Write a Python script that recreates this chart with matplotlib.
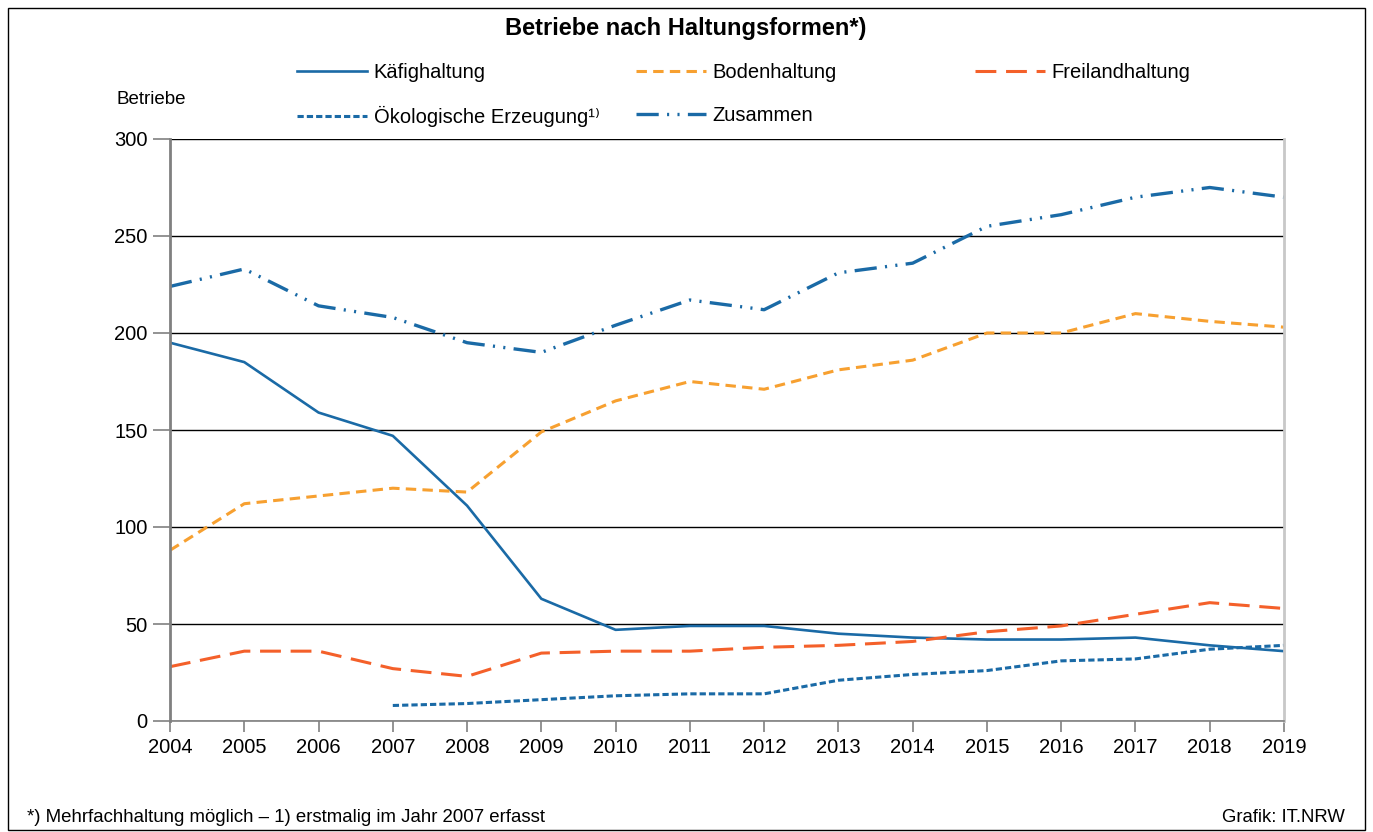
import matplotlib.pyplot as plt
from matplotlib.patches import Rectangle

plt.rcParams['font.family'] = ['Liberation Sans', 'DejaVu Sans']
plt.rcParams['lines.scale_dashes'] = False

years = list(range(2004, 2020))
kaefig = [195, 185, 159, 147, 111, 63, 47, 49, 49, 45, 43, 42, 42, 43, 39, 36]
boden = [88, 112, 116, 120, 118, 149, 165, 175, 171, 181, 186, 200, 200, 210, 206, 203]
freiland = [28, 36, 36, 27, 23, 35, 36, 36, 38, 39, 41, 46, 49, 55, 61, 58]
oeko_years = list(range(2007, 2020))
oeko = [8, 9, 11, 13, 14, 14, 21, 24, 26, 31, 32, 37, 39]
zusammen = [224, 233, 214, 208, 195, 190, 204, 217, 212, 231, 236, 255, 261, 270, 275, 270]

blue = '#1a6aa6'
c_boden = '#f7a030'
c_frei = '#f4602a'

fig = plt.figure(figsize=(13.73, 8.32), dpi=100)
ax = fig.add_axes([170 / 1373, 1 - 721 / 832, 1114 / 1373, 582 / 832])

l1, = ax.plot(years, kaefig, color=blue, lw=1.9, label='Käfighaltung')
l2, = ax.plot(years, boden, color=c_boden, lw=2.2, ls=(0, (7.5, 4.5)), label='Bodenhaltung')
l3, = ax.plot(years, freiland, color=c_frei, lw=2.2, ls=(0, (15, 7)), label='Freilandhaltung')
l4, = ax.plot(oeko_years, oeko, color=blue, lw=2.2, ls=(0, (4.5, 2.2)), label='Ökologische Erzeugung¹⁾')
l5, = ax.plot(years, zusammen, color=blue, lw=2.4,
              ls=(0, (16, 6, 1.5, 6, 1.5, 6)), label='Zusammen')

ax.set_xlim(2004, 2019)
ax.set_ylim(0, 300)
ax.set_xticks(years)
ax.set_yticks(range(0, 301, 50))
ax.grid(axis='y', color='black', lw=1)
ax.set_axisbelow(True)
ax.tick_params(axis='both', labelsize=14.5, color='#808080', width=1.2, labelcolor='black')
ax.tick_params(axis='y', length=12, pad=4)
ax.tick_params(axis='x', length=8, pad=4)
ax.spines['top'].set_visible(False)
ax.spines['left'].set_color('#808080')
ax.spines['left'].set_linewidth(2)
ax.spines['bottom'].set_color('#808080')
ax.spines['bottom'].set_linewidth(1.2)
ax.spines['right'].set_color('#c8c8c8')
ax.spines['right'].set_linewidth(2)

fig.text(686 / 1373, 1 - 29 / 832, 'Betriebe nach Haltungsformen*)', ha='center', va='center',
         fontsize=17, fontweight='bold')
fig.text(117 / 1373, 1 - 100 / 832, 'Betriebe', ha='left', va='center', fontsize=13.5)

leg_kw = dict(frameon=False, fontsize=14.5, handlelength=3.5, handletextpad=0.3,
              labelspacing=1.2, borderaxespad=0, borderpad=0)
top = 1 - 63 / 832
fig.legend(handles=[l1, l4], loc='upper left', bbox_to_anchor=(297 / 1373, top), **leg_kw)
fig.legend(handles=[l2, l5], loc='upper left', bbox_to_anchor=(636 / 1373, top), **leg_kw)
fig.legend(handles=[l3], loc='upper left', bbox_to_anchor=(975 / 1373, top), **leg_kw)

fig.text(27 / 1373, 1 - 818 / 832, '*) Mehrfachhaltung möglich – 1) erstmalig im Jahr 2007 erfasst',
         ha='left', va='center', fontsize=13.4)
fig.text(1345 / 1373, 1 - 818 / 832, 'Grafik: IT.NRW', ha='right', va='center', fontsize=13.3)

fig.patches.append(Rectangle((8 / 1373, 2 / 832), 1357 / 1373, 822 / 832, transform=fig.transFigure,
                             fill=False, edgecolor='black', lw=1))

fig.savefig('out.png', dpi=100)
